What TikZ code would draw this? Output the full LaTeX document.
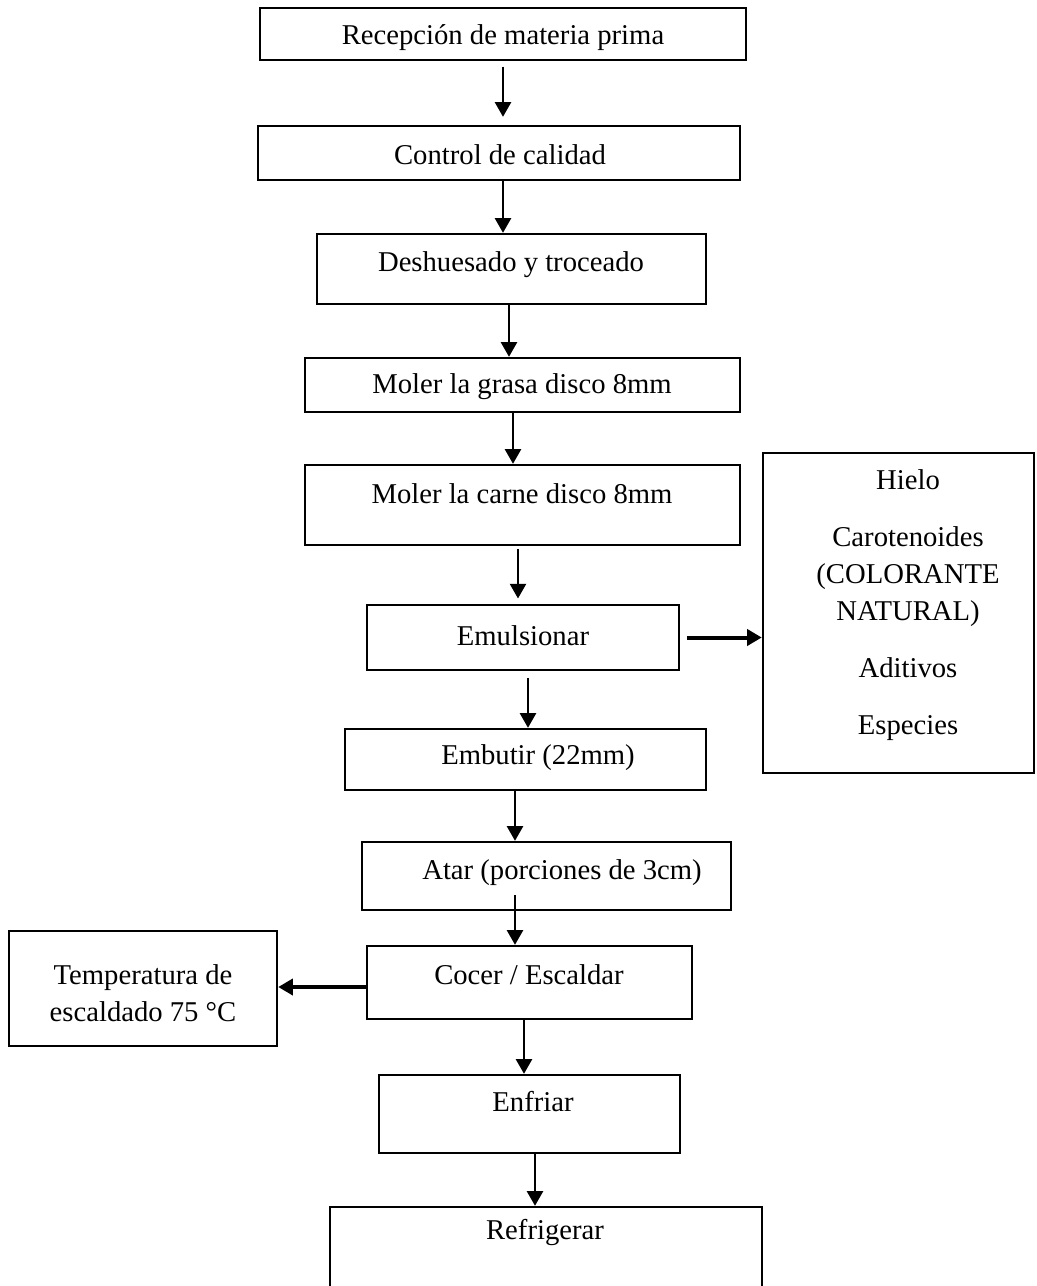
\documentclass[tikz,border=0pt]{standalone}
\usepackage{fontspec}
\setmainfont{Liberation Serif}
\usetikzlibrary{arrows.meta, positioning, fit}

\begin{document}
\begin{tikzpicture}[x=0.75pt, y=-0.75pt,
        >=Triangle,
        box/.style={draw, line width=1.8pt, inner sep=0pt},
        txt/.style={font=\fontsize{21.5}{27.75}\selectfont, align=center, inner sep=0pt},
        arr/.style={-{Triangle[length=11pt, width=12pt]}, line width=1.8pt},
        harr/.style={arr, line width=3pt},
    ]
    \useasboundingbox (0, 0) rectangle (1036, 1286);
    \clip (0, 0) rectangle (1036, 1286);
    % main line
    \node[box, fit={(260, 8) (746, 60)}] (recep) {};
    \node[txt] (trecep) at (503, 38) {Recepción de materia prima};
    \node[box, fit={(258, 126) (740, 180)}] (control) {};
    \node[txt] (tcontrol) at (500, 155) {Control de calidad};
    \node[box, fit={(317, 234) (706, 304)}] (deshu) {};
    \node[txt] (tdeshu) at (511, 265) {Deshuesado y troceado};
    \node[box, fit={(305, 358) (740, 412)}] (grasa) {};
    \node[txt] (tgrasa) at (522, 387) {Moler la grasa disco 8mm};
    \node[box, fit={(305, 465) (740, 545)}] (carne) {};
    \node[txt] (tcarne) at (522, 494) {Moler la carne disco 8mm};
    \node[box, fit={(367, 605) (679, 670)}] (emul) {};
    \node[txt] (temul) at (523, 636) {Emulsionar};
    \node[box, fit={(345, 729) (706, 790)}] (embut) {};
    \node[txt] (tembut) at (538, 758) {Embutir (22mm)};
    \node[box, fit={(362, 842) (731, 910)}] (atar) {};
    \node[txt] (tatar) at (562, 873) {Atar (porciones de 3cm)};
    \node[box, fit={(367, 946) (692, 1019)}] (cocer) {};
    \node[txt] (tcocer) at (529, 975) {Cocer / Escaldar};
    \node[box, fit={(379, 1075) (680, 1153)}] (enfri) {};
    \node[txt] (tenfri) at (533, 1102) {Enfriar};
    \node[box, fit={(330, 1207) (762, 1310)}] (refri) {};
    \node[txt] (trefri) at (545, 1232) {Refrigerar};
    % side boxes
    \node[box, fit={(763, 453) (1034, 773)}] (ingr) {};
    \node[txt] (tingr) at (908, 605)
        {Hielo\\[15pt]Carotenoides\\(COLORANTE\\NATURAL)\\[15pt]Aditivos\\[15pt]Especies};
    \node[box, fit={(9, 931) (277, 1046)}] (temp) {};
    \node[txt] (ttemp) at (143, 993) {Temperatura de\\escaldado 75 °C};
    % arrows
    \draw[arr, shorten <=4pt, shorten >=6pt] (recep.south -| 503,0) -- (control.north -| 503,0);
    \draw[arr] (control.south -| 503,0) -- (deshu.north -| 503,0);
    \draw[arr] (deshu.south -| 509,0) -- (grasa.north -| 509,0);
    \draw[arr] (grasa.south -| 513,0) -- (carne.north -| 513,0);
    \draw[arr, shorten <=2pt, shorten >=4pt] (carne.south -| 518,0) -- (emul.north -| 518,0);
    \draw[arr, shorten <=5pt] (emul.south -| 528,0) -- (embut.north -| 528,0);
    \draw[arr] (embut.south -| 515,0) -- (atar.north -| 515,0);
    \draw[arr, shorten <=-12pt] (atar.south -| 515,0) -- (cocer.north -| 515,0);
    \draw[arr] (cocer.south -| 524,0) -- (enfri.north -| 524,0);
    \draw[arr] (enfri.south -| 535,0) -- (refri.north -| 535,0);
    \draw[harr, shorten <=5pt] (emul.east) -- (emul.east -| ingr.west);
    \draw[harr] (cocer.west |- 0,987) -- (temp.east |- 0,987);
\end{tikzpicture}
\end{document}
